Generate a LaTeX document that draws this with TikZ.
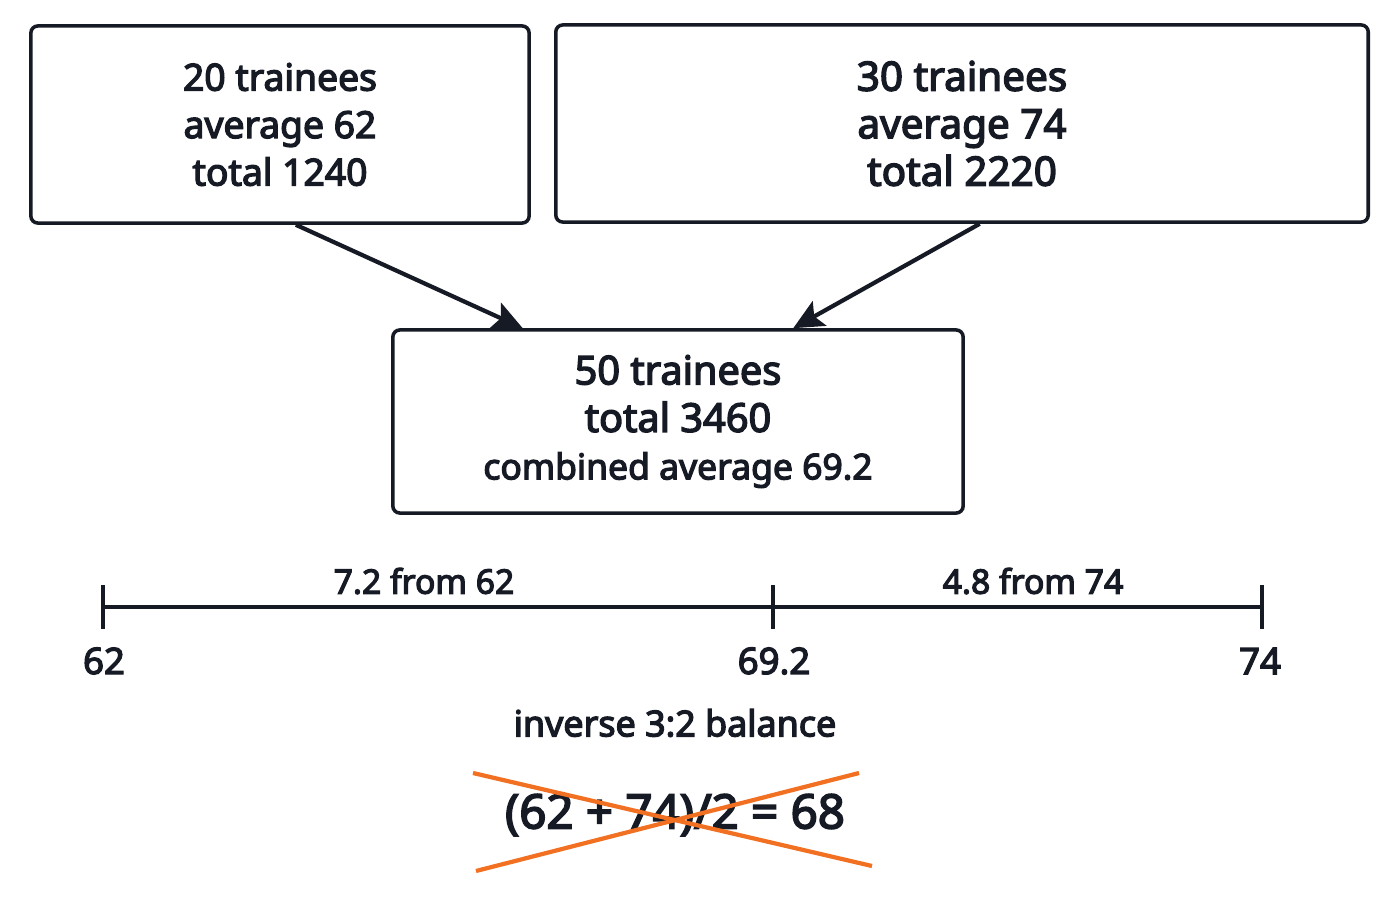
\documentclass[tikz,border=0pt]{standalone}
\usepackage{fontspec}
\setmainfont{Noto Sans}[FakeBold=3.5]
\usetikzlibrary{arrows.meta}
\definecolor{crossorange}{RGB}{242,112,33}
\definecolor{inkdark}{RGB}{22,26,36}

\begin{document}
\begin{tikzpicture}[x=0.01cm,y=-0.01cm,
  box/.style={draw=inkdark,text=inkdark,line width=1pt,rounded corners=2pt,align=center,inner sep=0pt},
  arr/.style={draw=inkdark,line width=1.2pt,-{Stealth[length=3mm,width=2.8mm,inset=0.6mm]}},
  axis/.style={draw=inkdark,line width=1pt},
  lbl/.style={text=inkdark},
  cross/.style={crossorange,line width=1.2pt}]
\useasboundingbox (0,0) rectangle (1400,900);
\node[box, font=\fontsize{10.6}{13.5}\selectfont, minimum width=4.98cm, minimum height=1.97cm] (1) at (280,124.5)
  {20 trainees\\ average 62\\ total 1240};
\node[box, font=\fontsize{11.5}{13.5}\selectfont, minimum width=8.12cm, minimum height=1.97cm] (2) at (962,123.5)
  {30 trainees\\ average 74\\ total 2220};
\node[box, font=\fontsize{11.3}{13.5}\selectfont, minimum width=5.70cm, minimum height=1.83cm] (3) at (678,421.5)
  {50 trainees\\ total 3460\\ \fontsize{10.1}{13.5}\selectfont combined average 69.2};
\path[arr] (1.-81) -- (3.149.5);
\path[arr] (2.-80) -- (3.39.8);
% number line
\coordinate (4) at (103,607);
\coordinate (5) at (773,607);
\coordinate (6) at (1262,607);
\path[axis] (4) -- (6);
\foreach \n in {4,5,6}
  \path[axis] (\n) ++(0,-22) -- ++(0,44);
\node[lbl, font=\fontsize{9.6}{11}\selectfont] (7) at (424,581) {7.2 from 62};
\node[lbl, font=\fontsize{9.6}{11}\selectfont] (8) at (1033,581) {4.8 from 74};
\node[lbl, font=\fontsize{10.4}{12}\selectfont] (9) at (104,661) {62};
\node[lbl, font=\fontsize{10.4}{12}\selectfont] (10) at (774,661) {69.2};
\node[lbl, font=\fontsize{10.4}{12}\selectfont] (11) at (1260,661) {74};
\node[lbl, font=\fontsize{10.2}{12}\selectfont] (12) at (675,723) {inverse 3:2 balance};
\node[lbl, font=\fontsize{13.5}{16}\selectfont] (13) at (675,815) {(62 + 74)/2 = 68};
% crossed out
\coordinate (14) at (473,773);
\coordinate (15) at (872,866);
\coordinate (16) at (476,871);
\coordinate (17) at (859,773);
\path[draw,cross] (14) -- (15);
\path[draw,cross] (16) -- (17);
\end{tikzpicture}
\end{document}
